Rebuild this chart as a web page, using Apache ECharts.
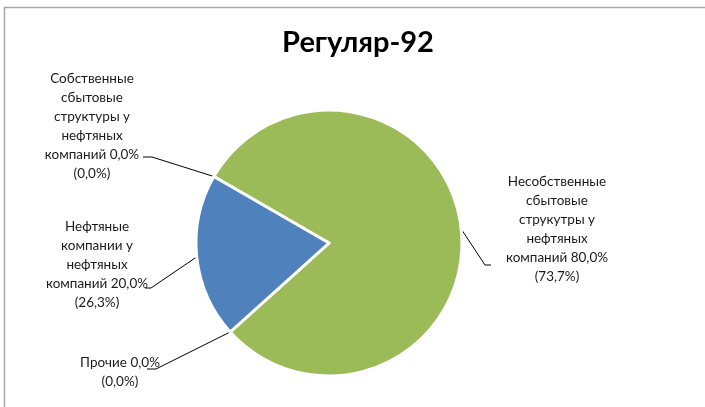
<!DOCTYPE html>
<html>
<head>
<meta charset="utf-8">
<script src="https://cdn.jsdelivr.net/npm/echarts@6/dist/echarts.min.js"></script>
<style>
  html, body { margin: 0; padding: 0; background: #fff; }
  #chart { width: 705px; height: 407px; }
</style>
</head>
<body>
<div id="chart"></div>
<script>
// категории и доли
var categories = [
  "Собственные\nсбытовые\nструктуры у\nнефтяных\nкомпаний",
  "Несобственные\nсбытовые\nструкутры у\nнефтяных\nкомпаний",
  "Прочие",
  "Нефтяные\nкомпании у\nнефтяных\nкомпаний"
];
var values = [0.0, 80.0, 0.0, 20.0];
var altShares = ["0,0%", "73,7%", "0,0%", "26,3%"];
var colors = ["#4F81BD", "#9BBB59", "#C0504D", "#4F81BD"];

// положение подписей (центр текста) и изгиб выноски
var labelPos = [
  { x: 92, y: 126, elbow: [[152, 157], [143, 157]] },
  { x: 557, y: 229, elbow: [[485, 265], [491, 265]] },
  { x: 120, y: 372, elbow: [[156, 369], [147, 369]] },
  { x: 97, y: 265, elbow: [[151, 288], [145, 288]] }
];

function fmt(v) {
  return v.toFixed(1).replace(".", ",") + "%";
}

var chart = echarts.init(document.getElementById("chart"));
var option = {
  animation: false,
  title: {
    text: "Регуляр-92",
    left: 353,
    top: 23,
    textAlign: "center",
    textStyle: {
      fontFamily: "Lato",
      fontSize: 29,
      fontWeight: "bold",
      color: "#000"
    }
  },
  graphic: [
    {
      type: "rect",
      shape: { x: 4.5, y: 7.5, width: 760, height: 460 },
      style: { fill: "none", stroke: "#a6a6a6", lineWidth: 1.5 },
      silent: true
    }
  ],
  series: [
    {
      type: "pie",
      center: [329, 243],
      radius: 133,
      startAngle: 150,
      clockwise: true,
      avoidLabelOverlap: false,
      data: categories.map(function (c, i) {
        return {
          name: c,
          value: values[i],
          itemStyle: { color: colors[i] }
        };
      }),
      itemStyle: { borderColor: "#fff", borderWidth: 3 },
      label: {
        show: true,
        position: "outside",
        fontFamily: "Lato",
        fontSize: 13.5,
        lineHeight: 19,
        color: "#1a1a1a",
        align: "center",
        formatter: function (p) {
          return p.name + " " + fmt(values[p.dataIndex]) + "\n(" + altShares[p.dataIndex] + ")";
        }
      },
      labelLine: {
        show: true,
        lineStyle: { color: "#000", width: 1 }
      },
      labelLayout: function (params) {
        var lp = labelPos[params.dataIndex];
        var start = params.labelLinePoints ? params.labelLinePoints[0] : lp.elbow[0];
        return {
          x: lp.x,
          y: lp.y,
          align: "center",
          verticalAlign: "middle",
          labelLinePoints: [start, lp.elbow[0], lp.elbow[1]]
        };
      }
    }
  ]
};
chart.setOption(option);
</script>
</body>
</html>
